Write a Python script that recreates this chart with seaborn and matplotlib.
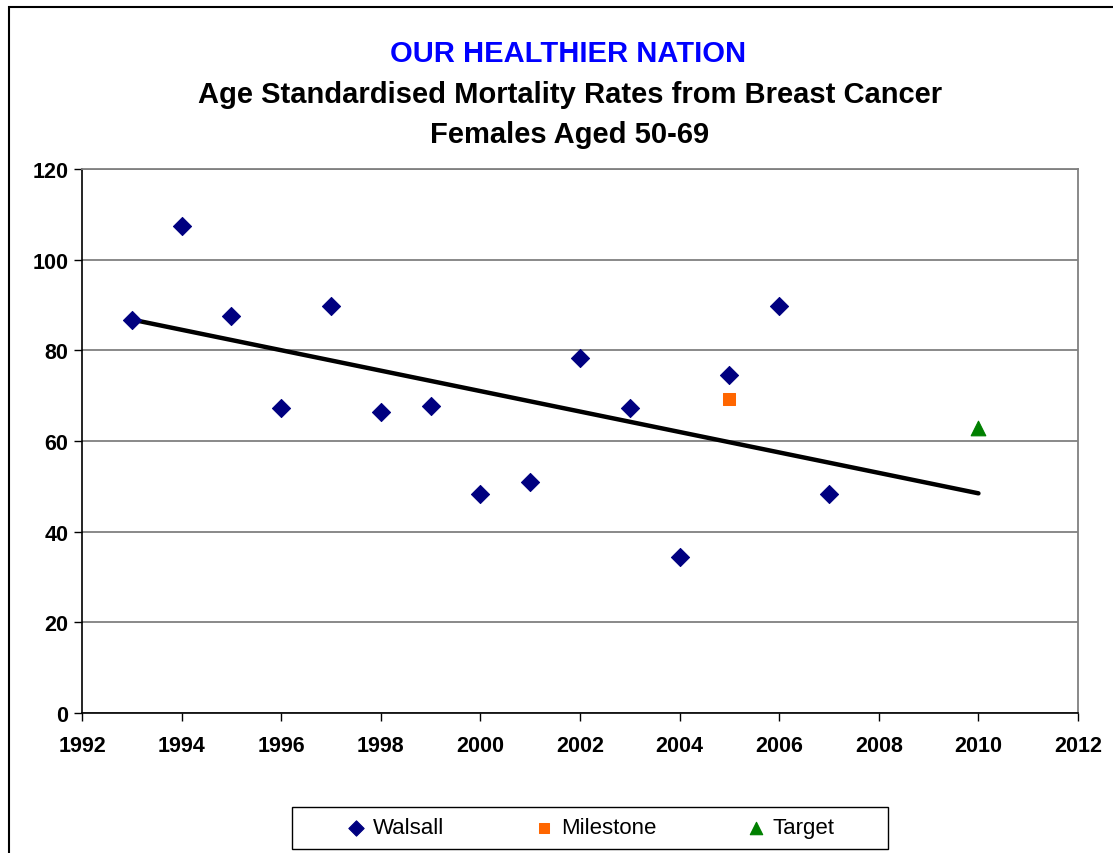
import numpy as np
import pandas as pd
import seaborn as sns
import matplotlib.pyplot as plt
from matplotlib.patches import Rectangle

# data
years = [1993, 1994, 1995, 1996, 1997, 1998, 1999, 2000,
         2001, 2002, 2003, 2004, 2005, 2006, 2007]
walsall = [86.7, 107.4, 87.6, 67.3, 89.8, 66.4, 67.7, 48.3,
           51.0, 78.3, 67.3, 34.4, 74.6, 89.8, 48.3]
milestone_year = [2005]
milestone = [69.3]
target_year = [2010]
target = [62.9]

sns.set_style("white")
plt.rcParams['font.family'] = ['Liberation Sans', 'DejaVu Sans']
plt.rcParams['text.color'] = 'black'
plt.rcParams['xtick.color'] = 'black'
plt.rcParams['ytick.color'] = 'black'

fig = plt.figure(figsize=(11.13, 8.54), dpi=100)
ax = fig.add_axes([0.0737, 0.164, 0.8949, 0.637])

df = pd.DataFrame({"year": years, "rate": walsall})
sns.scatterplot(data=df, x="year", y="rate", marker="D", s=85, color="#000080",
                edgecolor="#000080", ax=ax, label="Walsall", zorder=4)
sns.scatterplot(x=milestone_year, y=milestone, marker="s", s=85, color="#FF6600",
                edgecolor="#FF6600", ax=ax, label="Milestone", zorder=4)
sns.scatterplot(x=target_year, y=target, marker="^", s=110, color="#008000",
                edgecolor="#008000", ax=ax, label="Target", zorder=4)

# linear trend of Walsall data, extended to target year
slope, icpt = np.polyfit(years, walsall, 1)
tx = np.array([years[0], target_year[0]])
ax.plot(tx, slope * tx + icpt, color="black", lw=3.2, zorder=3)

ax.set_xlim(1992, 2012)
ax.set_ylim(0, 120)
ax.set_xticks(range(1992, 2013, 2))
ax.set_yticks(range(0, 121, 20))
ax.set_xlabel("")
ax.set_ylabel("")
ax.yaxis.grid(True, color="#808080", lw=1.3)
ax.set_axisbelow(True)
for lab in ax.get_xticklabels() + ax.get_yticklabels():
    lab.set_fontweight("bold")
    lab.set_fontsize(15.5)
ax.tick_params(axis="both", which="both", direction="out", length=6, width=1,
               color="black", left=True, bottom=True)
ax.tick_params(axis="x", pad=10)
ax.tick_params(axis="y", pad=4)
for side in ["top", "right"]:
    ax.spines[side].set_color("#808080")
    ax.spines[side].set_linewidth(1.3)
for side in ["left", "bottom"]:
    ax.spines[side].set_color("black")
    ax.spines[side].set_linewidth(1.2)

ax.legend_.remove()
h, l = ax.get_legend_handles_labels()
leg = fig.legend(h, l, loc="center", bbox_to_anchor=(0.53, 0.0293), ncol=3,
                 fontsize=16, frameon=False, columnspacing=4.0,
                 handlelength=1.0, handletextpad=0.25, markerscale=0.85)
# legend box
fig.patches.append(Rectangle((0.2624, 0.0047), 0.5355, 0.0492, fill=False,
                             edgecolor="black", lw=1.0, transform=fig.transFigure))

fig.text(0.51, 0.937, "OUR HEALTHIER NATION", ha="center", va="center",
         color="#0000FF", fontsize=21, fontweight="bold")
fig.text(0.512, 0.889, "Age Standardised Mortality Rates from Breast Cancer",
         ha="center", va="center", fontsize=21, fontweight="bold")
fig.text(0.512, 0.842, "Females Aged 50-69", ha="center", va="center",
         fontsize=21, fontweight="bold")

# chart border
fig.patches.append(Rectangle((0.008, -0.05), 1.2, 0.05 + 0.9906, fill=False,
                             edgecolor="black", lw=1.5, transform=fig.transFigure))

plt.savefig("out.png", dpi=100)
